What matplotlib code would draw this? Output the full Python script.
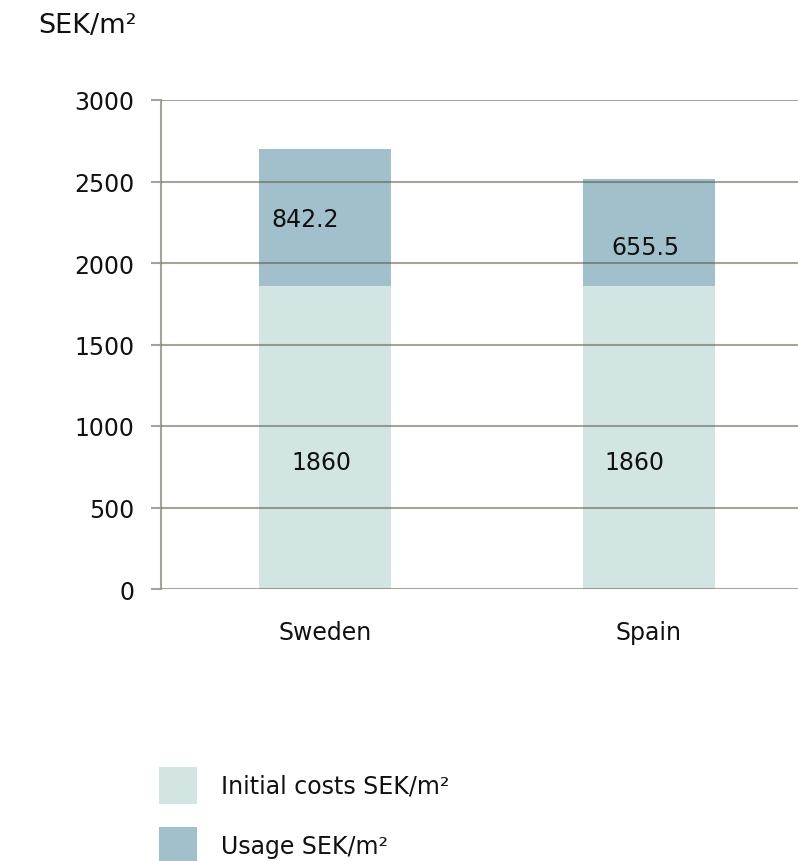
import matplotlib
matplotlib.use("Agg")
import matplotlib.pyplot as plt
from matplotlib.patches import Patch

countries = ["Sweden", "Spain"]
initial_costs = [1860, 1860]
usage = [842.2, 655.5]
y_ticks = [0, 500, 1000, 1500, 2000, 2500, 3000]
series_labels = ["Initial costs SEK/m²", "Usage SEK/m²"]

plt.rcParams["font.family"] = ["DejaVu Sans"]

c_initial = "#D3E5E3"
c_usage = "#A2C0CC"
grid_c = "#5a5a4a"
fs = 17

fig = plt.figure(figsize=(7.98, 8.62), dpi=100)
ax = fig.add_axes([161 / 798, 1 - 590 / 862, 637 / 798, (590 - 101) / 862])

x = list(range(len(countries)))
w = 0.41
ax.bar(x, initial_costs, width=w, color=c_initial, zorder=1)
ax.bar(x, usage, width=w, bottom=initial_costs, color=c_usage, zorder=1)

# value labels inside each segment
lab_dx_bottom = [-0.01, -0.045]
lab_dx_top = [-0.06, -0.012]
lab_y_top = [2270, 2100]
for i in x:
    ax.text(i + lab_dx_bottom[i], 780, f"{initial_costs[i]:g}", ha="center", va="center",
            fontsize=fs, color="#111111", zorder=3)
    ax.text(i + lab_dx_top[i], lab_y_top[i], f"{usage[i]:g}", ha="center", va="center",
            fontsize=fs, color="#111111", zorder=3)

ax.set_xlim(-0.506, 1.46)
ax.set_ylim(0, 3000)
ax.set_yticks(y_ticks)
ax.set_xticks(x)
ax.set_xticklabels(countries)
ax.yaxis.grid(True, color=grid_c, alpha=0.55, linewidth=1.5, zorder=2)
ax.set_axisbelow(False)
for s in ["top", "right", "bottom"]:
    ax.spines[s].set_visible(False)
ax.spines["left"].set_color("#a4a49a")
ax.spines["left"].set_linewidth(1.5)
ax.tick_params(axis="y", length=7, width=1.5, color="#a4a49a", labelsize=fs, pad=12,
               labelcolor="#111111")
ax.tick_params(axis="x", length=0, labelsize=fs, pad=22, labelcolor="#111111")

fig.text(38 / 798, 1 - 26 / 862, "SEK/m²", fontsize=19.5, ha="left", va="center",
         color="#111111")

handles = [Patch(facecolor=c_initial), Patch(facecolor=c_usage)]
fig.legend(handles, series_labels, loc="upper left",
           bbox_to_anchor=(138 / 798, 1 - 747 / 862), frameon=False, fontsize=fs,
           handlelength=1.6, handleheight=2.0, handletextpad=1.0, labelspacing=1.0,
           labelcolor="#111111")

fig.savefig("out.png", dpi=100)
